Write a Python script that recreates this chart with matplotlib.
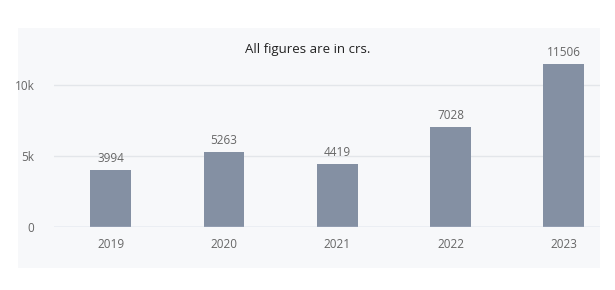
import matplotlib.pyplot as plt
from matplotlib.patches import Rectangle

years = ['2019', '2020', '2021', '2022', '2023']
values = [3994, 5263, 4419, 7028, 11506]
yticks = [0, 5000, 10000]
ytick_labels = ['0', '5k', '10k']

plt.rcParams['font.family'] = ['Open Sans', 'DejaVu Sans']

fig = plt.figure(figsize=(6.15, 2.9), dpi=100)
fig.patch.set_facecolor('white')
# panel background
fig.patches.append(Rectangle((18/615, 22/290), 582/615, 240/290,
                             transform=fig.transFigure, facecolor='#f7f8fa',
                             edgecolor='none', zorder=-5))

ax = fig.add_axes([54/615, 63/290, 546/615, 170/290])
ax.set_facecolor('none')
x = range(len(years))
bars = ax.bar(x, values, width=0.36, color='#8490a3', zorder=3)
for xi, v in zip(x, values):
    ax.text(xi, v + 350, str(v), ha='center', va='bottom', fontsize=8.5, color='#666666')

ax.set_xlim(-0.5, 4.32)
ax.set_ylim(0, 12000)
ax.set_yticks(yticks)
ax.set_yticklabels(ytick_labels)
ax.set_xticks(list(x))
ax.set_xticklabels(years)
ax.tick_params(axis='both', length=0, labelsize=8.5, labelcolor='#666666')
ax.tick_params(axis='y', pad=14)
ax.tick_params(axis='x', pad=8)
ax.grid(axis='y', color='#e3e6ea', linewidth=1, zorder=0)
ax.axhline(0, color='#ccd6eb', linewidth=1, zorder=4)
for s in ax.spines.values():
    s.set_visible(False)

fig.text(308/615, 1 - 50/290, 'All figures are in crs.', ha='center', va='center',
         fontsize=9.5, color='#222222')

fig.savefig('out.png', dpi=100)
